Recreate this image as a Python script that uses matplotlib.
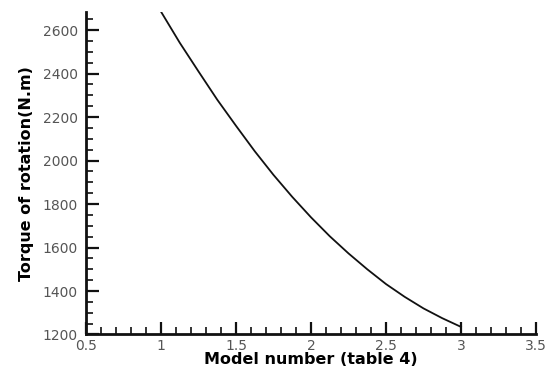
import matplotlib
matplotlib.use("Agg")
import matplotlib.pyplot as plt
from matplotlib.ticker import MultipleLocator

model_number = [1.0, 1.125, 1.25, 1.375, 1.5, 1.625, 1.75, 1.875, 2.0,
                2.125, 2.25, 2.375, 2.5, 2.625, 2.75, 2.875, 3.0]
torque = [2685, 2542, 2410, 2280, 2160, 2043, 1934, 1833, 1739,
          1652, 1573, 1500, 1432, 1373, 1320, 1275, 1235]

x_ticks = [0.5, 1, 1.5, 2, 2.5, 3, 3.5]
x_tick_labels = ["0.5", "1", "1.5", "2", "2.5", "3", "3.5"]
y_ticks = [1200, 1400, 1600, 1800, 2000, 2200, 2400, 2600]

fig = plt.figure(figsize=(5.5, 3.67), dpi=100)
ax = fig.add_axes([0.1564, 0.0886, 0.8181, 0.8784])

ax.plot(model_number, torque, color="#111111", lw=1.3, solid_joinstyle="round")

ax.set_xlim(0.5, 3.5)
ax.set_ylim(1200, 2683)
ax.xaxis.set_minor_locator(MultipleLocator(0.1))
ax.yaxis.set_minor_locator(MultipleLocator(50))
ax.set_xticks(x_ticks)
ax.set_xticklabels(x_tick_labels)
ax.set_yticks(y_ticks)

for s in ["top", "right"]:
    ax.spines[s].set_visible(False)
for s in ["left", "bottom"]:
    ax.spines[s].set_linewidth(2)
    ax.spines[s].set_color("#111111")

ax.tick_params(which="major", direction="in", length=9, width=1.6, color="#111111",
               labelsize=10, labelcolor="#555555")
ax.tick_params(which="minor", direction="in", length=5, width=1.2, color="#111111")
ax.tick_params(axis="x", pad=3.5)
ax.tick_params(axis="y", pad=6)

ax.set_xlabel("Model number (table 4)", fontsize=11.5, fontweight="bold", labelpad=-1)
ax.set_ylabel("Torque of rotation(N.m)", fontsize=11.5, fontweight="bold", labelpad=6)

fig.savefig("out.png", dpi=100)
